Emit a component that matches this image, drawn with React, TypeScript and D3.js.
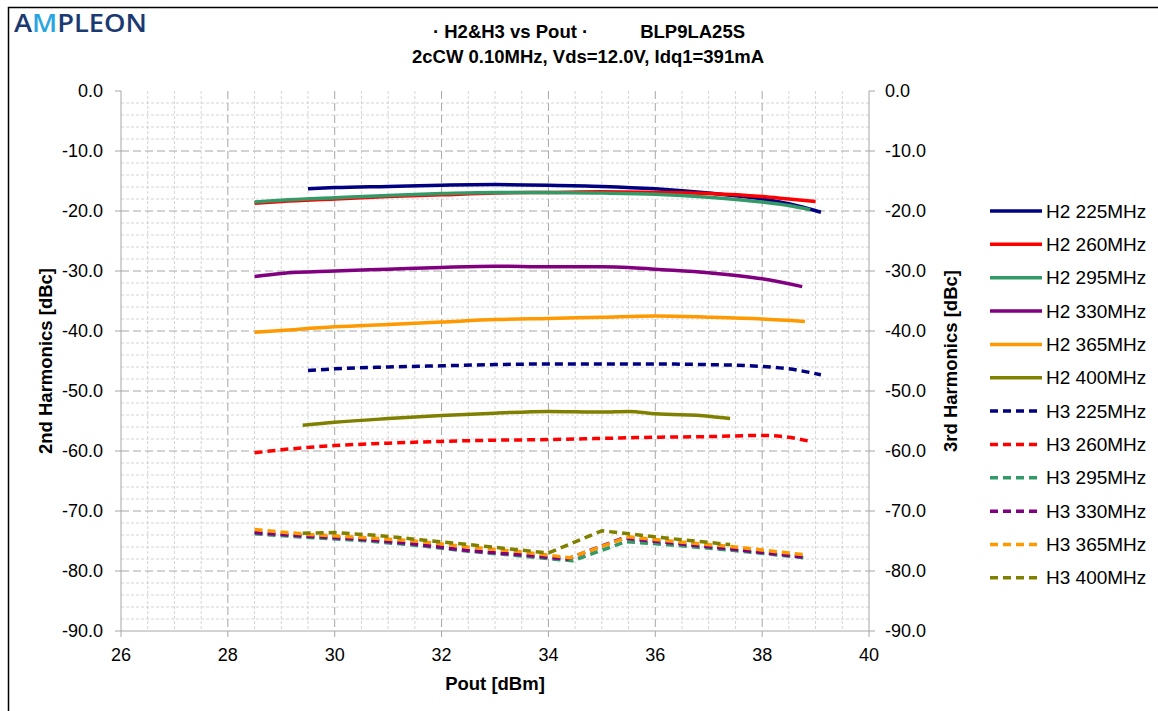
import React from "react";
import * as d3 from "d3";

// ---------- data ----------
const xTickValues = [26, 28, 30, 32, 34, 36, 38, 40];
const yTickValues = [0, -10, -20, -30, -40, -50, -60, -70, -80, -90];

const seriesNames = [
  "H2 225MHz", "H2 260MHz", "H2 295MHz", "H2 330MHz", "H2 365MHz", "H2 400MHz",
  "H3 225MHz", "H3 260MHz", "H3 295MHz", "H3 330MHz", "H3 365MHz", "H3 400MHz",
];
const seriesColors = ["#000080", "#ff0000", "#339966", "#800080", "#ff9900", "#808000"];

const h2_225_x = [29.5, 30, 31, 32, 33, 34, 35, 36, 37, 38, 38.5, 39.1];
const h2_225_y = [-16.3, -16.1, -15.9, -15.7, -15.6, -15.7, -15.9, -16.3, -17.0, -18.0, -18.8, -20.2];
const h2_260_x = [28.5, 29, 30, 31, 32, 33, 34, 35, 36, 37, 38, 38.5, 39];
const h2_260_y = [-18.7, -18.4, -18.0, -17.6, -17.3, -17.0, -16.9, -16.8, -16.9, -17.1, -17.6, -18.0, -18.4];
const h2_295_x = [28.5, 29, 30, 31, 32, 33, 34, 35, 36, 37, 38, 38.5, 38.9];
const h2_295_y = [-18.5, -18.2, -17.8, -17.4, -17.1, -16.9, -16.9, -17.0, -17.2, -17.7, -18.5, -19.1, -19.8];
const h2_330_x = [28.5, 29, 30, 31, 32, 33, 34, 35, 35.5, 36, 37, 38, 38.75];
const h2_330_y = [-30.9, -30.4, -30.0, -29.7, -29.4, -29.2, -29.3, -29.3, -29.4, -29.7, -30.3, -31.3, -32.6];
const h2_365_x = [28.5, 29, 30, 31, 32, 33, 34, 35, 36, 37, 38, 38.8];
const h2_365_y = [-40.2, -39.9, -39.3, -38.9, -38.5, -38.1, -37.9, -37.7, -37.5, -37.7, -38.0, -38.4];
const h2_400_x = [29.4, 30, 31, 32, 33, 34, 35, 35.5, 36, 37, 37.4];
const h2_400_y = [-55.7, -55.2, -54.6, -54.1, -53.7, -53.4, -53.5, -53.4, -53.8, -54.2, -54.6];

const h3_225_x = [29.5, 30, 31, 32, 33, 34, 35, 36, 37, 38, 38.5, 39.1];
const h3_225_y = [-46.6, -46.3, -46.0, -45.8, -45.6, -45.5, -45.5, -45.5, -45.6, -45.9, -46.3, -47.3];
const h3_260_x = [28.5, 29, 30, 31, 32, 33, 34, 35, 36, 37, 38, 38.4, 38.9];
const h3_260_y = [-60.3, -59.8, -59.1, -58.7, -58.4, -58.2, -58.1, -57.9, -57.7, -57.6, -57.4, -57.6, -58.4];
const h3_295_x = [28.5, 29.5, 30.5, 31.5, 32.5, 33.5, 34.45, 35.45, 36.5, 37.5, 38.8];
const h3_295_y = [-73.8, -74.4, -74.9, -75.7, -76.7, -77.5, -78.3, -75.1, -75.8, -76.6, -77.8];
const h3_330_x = [28.5, 29.5, 30.5, 31.5, 32.5, 33.5, 34.35, 35.4, 36.5, 37.5, 38.8];
const h3_330_y = [-73.6, -74.2, -74.7, -75.5, -76.6, -77.3, -78.0, -74.5, -75.5, -76.4, -77.7];
const h3_365_x = [28.5, 29.5, 30.5, 31.5, 32.5, 33.5, 34.4, 35.5, 36.5, 37.5, 38.8];
const h3_365_y = [-73.1, -73.9, -74.4, -75.0, -76.0, -76.8, -77.8, -74.3, -75.2, -76.0, -77.3];
const h3_400_x = [29.4, 30.0, 30.85, 31.6, 32.4, 33.15, 34.0, 35.0, 35.5, 36.5, 37.4];
const h3_400_y = [-73.7, -73.6, -74.1, -74.8, -75.5, -76.2, -77.0, -73.3, -73.8, -74.8, -75.6];

const seriesX = [h2_225_x, h2_260_x, h2_295_x, h2_330_x, h2_365_x, h2_400_x, h3_225_x, h3_260_x, h3_295_x, h3_330_x, h3_365_x, h3_400_x];
const seriesY = [h2_225_y, h2_260_y, h2_295_y, h2_330_y, h2_365_y, h2_400_y, h3_225_y, h3_260_y, h3_295_y, h3_330_y, h3_365_y, h3_400_y];

// ---------- layout ----------
const W = 1158, H = 711;
const PL = 121, PR = 869, PT = 91, PB = 631;
const FONT = "'Liberation Sans', Arial, sans-serif";

export default function App() {
  const x = d3.scaleLinear().domain([26, 40]).range([PL, PR]);
  const y = d3.scaleLinear().domain([-90, 0]).range([PB, PT]);
  const smooth = d3.line<[number, number]>().x(d => x(d[0])).y(d => y(d[1])).curve(d3.curveMonotoneX);
  const straight = d3.line<[number, number]>().x(d => x(d[0])).y(d => y(d[1])).curve(d3.curveLinear);

  const minorX = d3.range(26.5, 40, 0.5).filter(v => Math.abs(v % 2) > 1e-6);
  const majorX = d3.range(28, 40, 2);
  const minorY = d3.range(-88, 0, 2).filter(v => Math.abs(v % 10) > 1e-6);
  const majorY = d3.range(-80, 0, 10);

  return (
    <svg width={W} height={H} style={{ position: "absolute", left: 0, top: 0, background: "#fff" }} fontFamily={FONT}>
      <rect x={8.5} y={7.5} width={1300} height={900} fill="#ffffff" stroke="#000" strokeWidth={1.5} />
      {/* logo */}
      <g fontFamily="'Open Sans', 'Liberation Sans', sans-serif" fontSize={25} fontWeight={600}>
        <text x={14} y={32} fill="#1c3a72" textLength={133} lengthAdjust="spacingAndGlyphs">
          A<tspan fill="#29a6df">M</tspan>PLEON
        </text>
      </g>
      {/* title */}
      <text x={589} y={38} textAnchor="middle" fontWeight="bold" fontSize={18.5}>
        {"· H2&H3  vs Pout ·"}
        <tspan dx={52}>BLP9LA25S</tspan>
      </text>
      <text x={588} y={63} textAnchor="middle" fontWeight="bold" fontSize={18.5}>
        2cCW 0.10MHz, Vds=12.0V, Idq1=391mA
      </text>

      {/* grid */}
      {minorX.map(v => (
        <line key={"mx" + v} x1={x(v)} x2={x(v)} y1={PT} y2={PB} stroke="#d4d4d4" strokeWidth={1} strokeDasharray="3,2" />
      ))}
      {minorY.map(v => (
        <line key={"my" + v} x1={PL} x2={PR} y1={y(v)} y2={y(v)} stroke="#d4d4d4" strokeWidth={1} strokeDasharray="3,2" />
      ))}
      {majorX.map(v => (
        <line key={"Mx" + v} x1={x(v)} x2={x(v)} y1={PT} y2={PB} stroke="#a6a6a6" strokeWidth={1} strokeDasharray="8,4" />
      ))}
      {majorY.map(v => (
        <line key={"My" + v} x1={PL} x2={PR} y1={y(v)} y2={y(v)} stroke="#a6a6a6" strokeWidth={1} strokeDasharray="8,4" />
      ))}

      {/* axes */}
      <line x1={PL} x2={PL} y1={PT} y2={PB} stroke="#a6a6a6" />
      <line x1={PR} x2={PR} y1={PT} y2={PB} stroke="#a6a6a6" />
      <line x1={PL} x2={PR} y1={PB} y2={PB} stroke="#a6a6a6" />
      {yTickValues.map(v => (
        <g key={"yt" + v}>
          <line x1={PL - 6} x2={PL} y1={y(v)} y2={y(v)} stroke="#a6a6a6" />
          <line x1={PR} x2={PR + 6} y1={y(v)} y2={y(v)} stroke="#a6a6a6" />
          <text x={103} y={y(v) + 6} textAnchor="end" fontSize={18}>{v.toFixed(1)}</text>
          <text x={885} y={y(v) + 6} textAnchor="start" fontSize={18}>{v.toFixed(1)}</text>
        </g>
      ))}
      {xTickValues.map(v => (
        <g key={"xt" + v}>
          <line x1={x(v)} x2={x(v)} y1={PB} y2={PB + 6} stroke="#a6a6a6" />
          <text x={x(v)} y={661} textAnchor="middle" fontSize={18}>{v}</text>
        </g>
      ))}
      <text x={495} y={690} textAnchor="middle" fontWeight="bold" fontSize={18.5}>Pout [dBm]</text>
      <text transform={`translate(52,${(PT + PB) / 2}) rotate(-90)`} textAnchor="middle" fontWeight="bold" fontSize={18.5}>2nd Harmonics [dBc]</text>
      <text transform={`translate(957,${(PT + PB) / 2}) rotate(-90)`} textAnchor="middle" fontWeight="bold" fontSize={18.5}>3rd Harmonics [dBc]</text>

      {/* series */}
      {seriesNames.map((name, i) => {
        const pts = seriesX[i].map((xv, j) => [xv, seriesY[i][j]] as [number, number]);
        const dashed = i >= 6;
        const gen = i >= 8 ? straight : smooth;
        return (
          <path key={name} d={gen(pts) || ""} fill="none" stroke={seriesColors[i % 6]} strokeWidth={3.5}
            strokeDasharray={dashed ? "8,5" : undefined} strokeLinejoin="round" />
        );
      })}

      {/* legend */}
      {seriesNames.map((name, i) => {
        const ly = 211 + i * 33.35;
        return (
          <g key={"lg" + name}>
            <line x1={990} x2={1042} y1={ly} y2={ly} stroke={seriesColors[i % 6]} strokeWidth={3.5}
              strokeDasharray={i >= 6 ? "8,5" : undefined} />
            <text x={1046} y={ly + 6.5} fontSize={19}>{name}</text>
          </g>
        );
      })}
    </svg>
  );
}
